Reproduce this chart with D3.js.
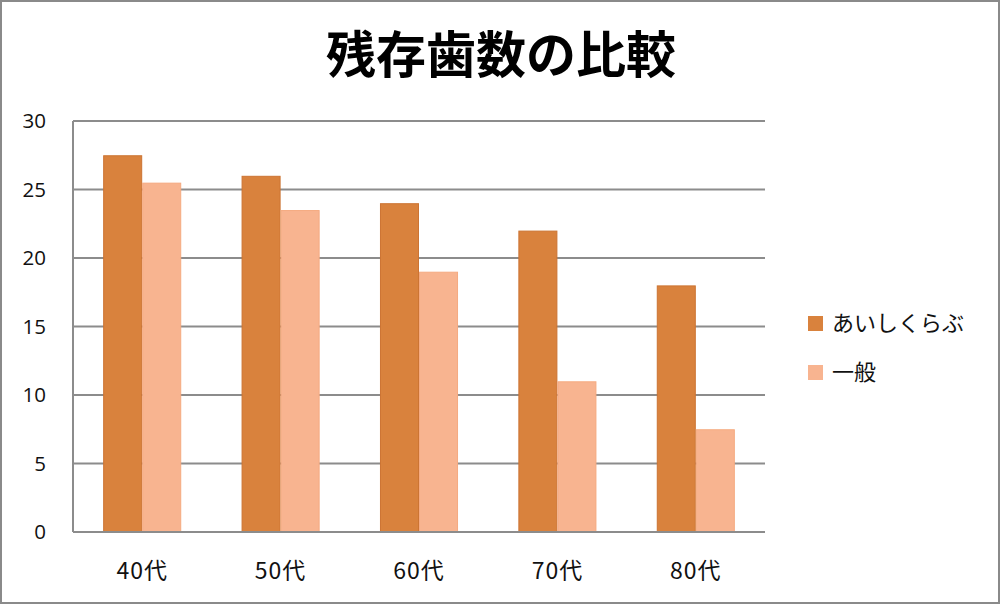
<!DOCTYPE html>
<html><head><meta charset="utf-8">
<script src="https://cdn.jsdelivr.net/npm/d3@7/dist/d3.min.js"></script>
<style>body{margin:0;background:#fff}svg{display:block}</style>
</head><body>
<svg id="c" width="1000" height="605"></svg>
<script>
const title = "残存歯数の比較";
const categories = ["40代","50代","60代","70代","80代"];
const seriesNames = ["あいしくらぶ","一般"];
const aishiclub = [27.5, 26, 24, 22, 18];
const ippan = [25.5, 23.5, 19, 11, 7.5];
const yTicks = [0,5,10,15,20,25,30];

const colors = ["#D9823D","#F8B490"];
const strokes = ["#CC7433","#F5AA80"];
const series = [aishiclub, ippan];

const svg = d3.select("#c");
const W=1000,H=605;
svg.append("rect").attr("x",1).attr("y",1).attr("width",W-2).attr("height",H-3)
  .attr("fill","#fff").attr("stroke","#8a8a8a").attr("stroke-width",2);

const L=73,R=765,T=121,B=532;
const y=d3.scaleLinear().domain([0,30]).range([B,T]);
const p=0.436;
const x=d3.scaleBand().domain(categories).range([L,R]).paddingInner(p).paddingOuter(p/2);
const xs=d3.scaleBand().domain(d3.range(series.length)).range([0,x.bandwidth()]);

// gridlines
svg.append("g").selectAll("line").data(yTicks.filter(d=>d>0)).join("line")
  .attr("x1",L).attr("x2",R).attr("y1",d=>y(d)).attr("y2",d=>y(d))
  .attr("stroke","#8c8c8c").attr("stroke-width",2);

// bars
series.forEach((vals,si)=>{
  svg.append("g").selectAll("rect").data(vals).join("rect")
    .attr("x",(d,i)=>x(categories[i])+xs(si)+0.5)
    .attr("width",xs.bandwidth()-1)
    .attr("y",d=>y(d)+0.5)
    .attr("height",d=>B-y(d)-0.5)
    .attr("fill",colors[si]).attr("stroke",strokes[si]).attr("stroke-width",1);
});

// axes lines
svg.append("line").attr("x1",L).attr("x2",L).attr("y1",T).attr("y2",B).attr("stroke","#8c8c8c").attr("stroke-width",2);
svg.append("line").attr("x1",L).attr("x2",R).attr("y1",B).attr("y2",B).attr("stroke","#8c8c8c").attr("stroke-width",2);

const font="'Noto Sans CJK JP','Noto Sans',sans-serif";
// y labels
svg.append("g").selectAll("text").data(yTicks).join("text")
  .attr("x",46).attr("y",d=>y(d)).attr("dy","0.35em").attr("text-anchor","end")
  .attr("font-family","'Open Sans','Noto Sans',sans-serif").attr("font-size",20.5).attr("fill","#111")
  .text(d=>d);

// x labels
svg.append("g").selectAll("text").data(categories).join("text")
  .attr("x",d=>x(d)+x.bandwidth()/2).attr("y",571).attr("dy","0.35em").attr("text-anchor","middle")
  .attr("font-family",font).attr("font-size",23).attr("letter-spacing",1).attr("fill","#111")
  .text(d=>d);

// title
svg.append("text").attr("x",501).attr("y",55).attr("dy","0.35em").attr("text-anchor","middle")
  .attr("font-family",font).attr("font-weight","bold").attr("font-size",50).attr("fill","#000")
  .text(title);

// legend
const lg=svg.append("g");
seriesNames.forEach((n,i)=>{
  const cy=323+i*49;
  lg.append("rect").attr("x",808).attr("y",cy-7).attr("width",15).attr("height",15).attr("fill",colors[i]);
  lg.append("text").attr("x",832).attr("y",cy).attr("dy","0.35em")
    .attr("font-family",font).attr("font-size",22).attr("fill","#111").text(n);
});
</script>
</body></html>
